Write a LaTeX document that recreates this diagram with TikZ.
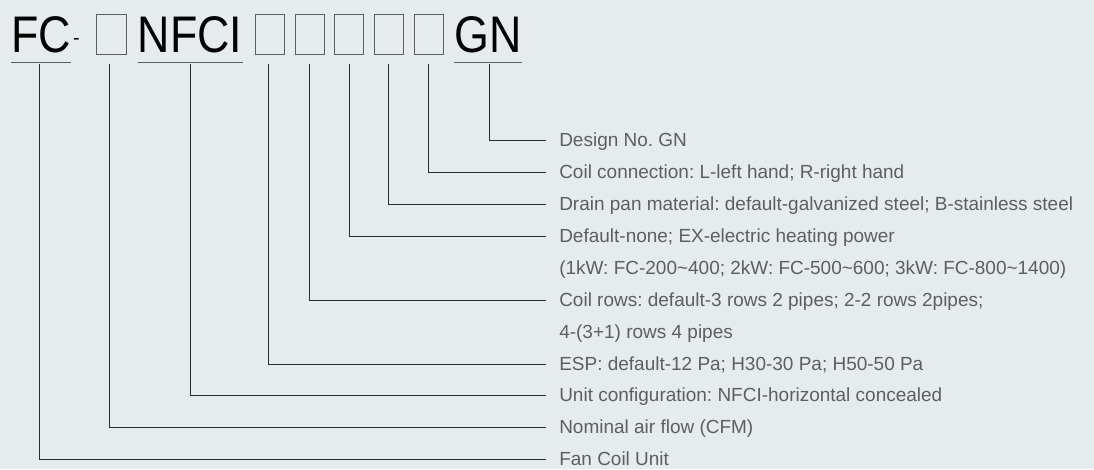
\documentclass[tikz,border=0pt]{standalone}
\usepackage{fontspec}
\setmainfont{Liberation Sans}
\newfontfamily\codefont[FakeStretch=0.87]{Liberation Sans}
\usepackage{xcolor}
\usepackage{tikz}
\usetikzlibrary{positioning}
\frenchspacing

\definecolor{bgcol}{RGB}{230,235,238}
\definecolor{linecol}{RGB}{40,44,48}
\definecolor{slotcol}{RGB}{90,94,98}
\definecolor{txtcol}{RGB}{92,95,98}

\begin{document}
\begin{tikzpicture}[
			x=0.025cm, y=-0.025cm,
			code/.style={font=\codefont\fontsize{36.6pt}{40pt}\selectfont, inner sep=0pt, anchor=base west},
			slot/.style={rectangle, draw=slotcol, line width=0.6pt, minimum width=0.73cm, minimum height=1cm, inner sep=0pt},
			uline/.style={draw=slotcol, line width=0.7pt},
			conn/.style={draw=linecol, line width=0.6pt},
			lbl/.style={anchor=west, inner xsep=0.325cm, inner ysep=0pt, text height=9.7pt, text depth=0pt, text=txtcol, font=\fontsize{13.5pt}{16pt}\selectfont}
			]
			\useasboundingbox[fill=bgcol] (0,0) rectangle (1094,469);
			% model code
			\node[code] (fc) at (11,52) {FC};
			\node[anchor=base, inner sep=0pt, font=\fontsize{14pt}{16pt}\selectfont] (dash) at (76.5,44) {-};
			\node[slot] (b1) at (111.5,34) {};
			\node[code] (nfci) at (137.5,52) {NFCI};
			\node[slot] (b2) at (270,34) {};
			\node[slot] (b3) at (309.6,34) {};
			\node[slot] (b4) at (349.2,34) {};
			\node[slot] (b5) at (388.8,34) {};
			\node[slot] (b6) at (428.6,34) {};
			\node[code] (gn) at (454,52) {GN};
			\draw[uline] ([yshift=-0.25cm]fc.base west) -- ([yshift=-0.25cm]fc.base east);
			\draw[uline] ([yshift=-0.25cm]nfci.base west) -- ([yshift=-0.25cm]nfci.base east);
			\draw[uline] ([yshift=-0.25cm]gn.base west) -- ([yshift=-0.25cm]gn.base east);
			\coordinate (top) at (0,64);
			% descriptions
			\node[lbl] (lgn) at (546,140) {Design No. GN};
			\node[lbl] (lconn) at (546,172) {Coil connection: L-left hand; R-right hand};
			\node[lbl] (lpan) at (546,204) {Drain pan material: default-galvanized steel; B-stainless steel};
			\node[lbl] (lheat) at (546,236) {Default-none; EX-electric heating power};
			\node[lbl] (lheatb) at (546,268) {(1kW: FC-200\textasciitilde400; 2kW: FC-500\textasciitilde600; 3kW: FC-800\textasciitilde1400)};
			\node[lbl] (lrows) at (546,300) {Coil rows: default-3 rows 2 pipes; 2-2 rows 2pipes;};
			\node[lbl] (lrowsb) at (546,332) {4-(3+1) rows 4 pipes};
			\node[lbl] (lesp) at (546,364) {ESP: default-12 Pa; H30-30 Pa; H50-50 Pa};
			\node[lbl] (lcfg) at (546,395) {Unit configuration: NFCI-horizontal concealed};
			\node[lbl] (lflow) at (546,427) {Nominal air flow (CFM)};
			\node[lbl] (lunit) at (546,459) {Fan Coil Unit};
			% leaders
			\draw[conn] ([xshift=0.05cm]gn |- top) |- (lgn.west);
			\draw[conn] (b6 |- top) |- (lconn.west);
			\draw[conn] (b5 |- top) |- (lpan.west);
			\draw[conn] (b4 |- top) |- (lheat.west);
			\draw[conn] (b3 |- top) |- (lrows.west);
			\draw[conn] ([xshift=-0.05cm]b2 |- top) |- (lesp.west);
			\draw[conn] (nfci |- top) |- (lcfg.west);
			\draw[conn] ([xshift=-0.04cm]b1 |- top) |- (lflow.west);
			\draw[conn] ([xshift=-0.05cm]fc |- top) |- (lunit.west);
		\end{tikzpicture}
\end{document}
